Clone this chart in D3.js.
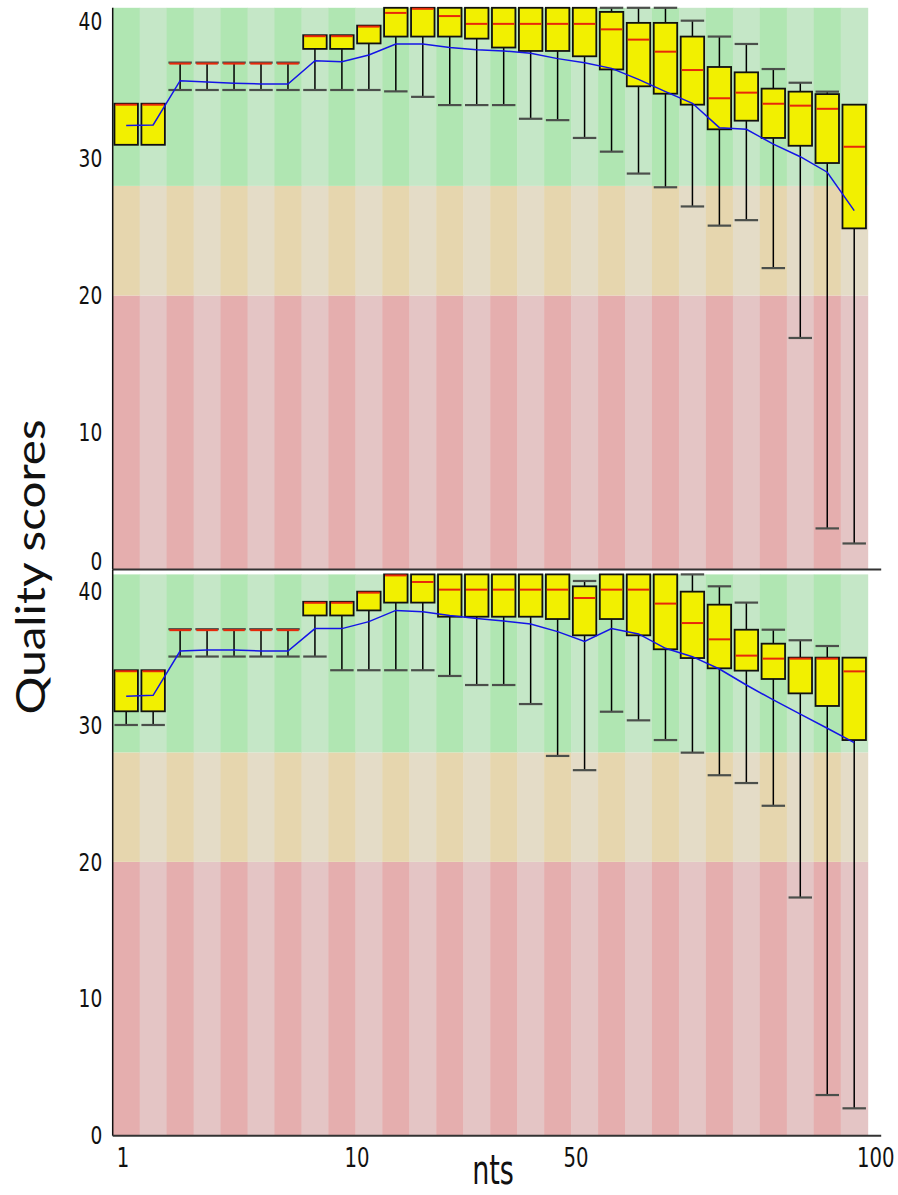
<!DOCTYPE html>
<html>
<head>
<meta charset="utf-8">
<script src="https://cdn.jsdelivr.net/npm/d3@7"></script>
<style>
  body { margin: 0; background: #fff; }
  svg { display: block; }
</style>
</head>
<body>
<div id="chart"></div>
<script>
// per-base quality, two reads stacked (28 position bins each)
const N_BINS = 28;
const Y_TICKS = [0, 10, 20, 30, 40];
const Y_MAX = 41;
const BAND_EDGES = [0, 20, 28, 41];           // red / orange / green
const X_TICK_LABELS = ["1", "10", "50", "100"];
const X_TICK_BINS = [0.38, 9.06, 17.18, 28.3]; // where the labels sit, in bin units

// top panel
const TOP_WLO  = [31, 31, 35, 35, 35, 35, 35, 35, 35, 35, 34.9, 34.5, 33.9, 33.9, 33.9, 32.9, 32.8, 31.5, 30.5, 28.9, 27.9, 26.5, 25.1, 25.5, 22.0, 16.9, 3.0, 1.9];
const TOP_Q1   = [31, 31, 37, 37, 37, 37, 37, 38, 38, 38.4, 38.9, 38.9, 38.9, 38.75, 38.1, 37.85, 37.85, 37.46, 36.5, 35.27, 34.73, 33.93, 32.13, 32.76, 31.5, 30.93, 29.67, 24.9];
const TOP_MED  = [34, 34, 37, 37, 37, 37, 37, 39, 39, 39.7, 40.7, 41, 40.47, 39.9, 39.9, 39.9, 39.9, 39.9, 39.5, 38.75, 37.87, 36.53, 34.47, 34.88, 34.07, 33.93, 33.7, 30.93];
const TOP_Q3   = [34, 34, 37, 37, 37, 37, 37, 39, 39, 39.7, 41, 41, 41, 41, 41, 41, 41, 41, 40.7, 39.9, 39.9, 38.9, 36.68, 36.29, 35.1, 34.88, 34.7, 33.93];
const TOP_WHI  = [34, 34, 37, 37, 37, 37, 37, 39, 39, 39.7, 41, 41, 41, 41, 41, 41, 41, 41, 41, 41, 41, 40.06, 38.9, 38.36, 36.53, 35.53, 34.88, 33.93];
const TOP_MEAN = [32.4, 32.45, 35.68, 35.58, 35.5, 35.44, 35.44, 37.14, 37.07, 37.55, 38.36, 38.36, 38.11, 37.94, 37.85, 37.68, 37.29, 36.99, 36.58, 35.78, 34.88, 34.03, 32.25, 32.13, 31.05, 30.13, 29.0, 26.2];

// bottom panel
const BOT_WLO  = [30, 30, 35, 35, 35, 35, 35, 35, 34, 34, 34, 34, 33.58, 32.92, 32.92, 31.53, 27.74, 26.7, 30.97, 30.34, 28.9, 27.98, 26.33, 25.76, 24.1, 17.4, 2.97, 2.0];
const BOT_Q1   = [31, 31, 37, 37, 37, 37, 37, 38, 38, 38.37, 38.94, 38.94, 37.91, 37.91, 37.91, 37.91, 37.74, 36.55, 37.74, 36.55, 35.53, 34.89, 34.14, 33.97, 33.36, 32.31, 31.39, 28.9];
const BOT_MED  = [34, 34, 37, 37, 37, 37, 37, 39, 39, 39.74, 41, 40.52, 39.96, 39.96, 39.96, 39.96, 39.96, 39.35, 39.96, 39.96, 38.94, 37.52, 36.33, 35.14, 34.92, 34.92, 34.92, 33.99];
const BOT_Q3   = [34, 34, 37, 37, 37, 37, 37, 39, 39, 39.74, 41, 41, 41, 41, 41, 41, 41, 40.13, 41, 41, 41, 39.74, 38.79, 36.96, 35.94, 34.92, 34.92, 34.92];
const BOT_WHI  = [34, 34, 37, 37, 37, 37, 37, 39, 39, 39.74, 41, 41, 41, 41, 41, 41, 41, 40.52, 41, 41, 41, 41, 40.13, 38.94, 36.96, 36.19, 35.77, 34.92];
const BOT_MEAN = [32.1, 32.17, 35.4, 35.48, 35.48, 35.4, 35.4, 37.04, 37.04, 37.55, 38.37, 38.28, 37.99, 37.77, 37.6, 37.38, 36.82, 36.11, 37.04, 36.65, 35.6, 34.99, 34.09, 32.92, 31.83, 30.8, 29.76, 28.71];

const BAND_COLORS = [["#e5aeae", "#e4c5c5"], ["#e6d6ae", "#e4dcc7"], ["#b0e6b2", "#c5e7c7"]];
const NARROW = "'DejaVu Sans Condensed', 'DejaVu Sans', sans-serif";
const SQUEEZE = 0.81;   // the reference glyphs are horizontally squashed

const W = 898, H = 1195;
const left = 112.7, right = 867.7;

const svg = d3.select("#chart").append("svg").attr("width", W).attr("height", H);

const x = d3.scaleBand().domain(d3.range(N_BINS)).range([left, right]);
const xBins = d3.scaleLinear().domain([0, N_BINS]).range([left, right]);
const pad = x.bandwidth() * 0.065;
const bw = x.bandwidth() - 2 * pad;
const cx = i => x(i) + x.bandwidth() / 2;

const panels = [
  { y: d3.scaleLinear().domain([0, Y_MAX]).range([569.5, 7.8]), axisTop: 7.8,
    wlo: TOP_WLO, q1: TOP_Q1, med: TOP_MED, q3: TOP_Q3, whi: TOP_WHI, mean: TOP_MEAN },
  { y: d3.scaleLinear().domain([0, Y_MAX]).range([1135.7, 574.4]), axisTop: 569.5,
    wlo: BOT_WLO, q1: BOT_Q1, med: BOT_MED, q3: BOT_Q3, whi: BOT_WHI, mean: BOT_MEAN }
];

panels.forEach((p, pi) => {
  const y = p.y;
  const g = svg.append("g");

  // striped quality bands
  const bands = [];
  for (let b = 0; b < BAND_EDGES.length - 1; b++)
    for (let i = 0; i < N_BINS; i++) bands.push({ b, i });
  g.selectAll("rect.bg").data(bands).enter().append("rect")
    .attr("x", d => x(d.i)).attr("width", x.bandwidth() + 0.5)
    .attr("y", d => y(BAND_EDGES[d.b + 1]))
    .attr("height", d => y(BAND_EDGES[d.b]) - y(BAND_EDGES[d.b + 1]))
    .attr("fill", d => BAND_COLORS[d.b][d.i % 2]);

  const idx = d3.range(N_BINS);

  // whiskers
  g.selectAll("line.wl").data(idx).enter().append("line")
    .attr("x1", cx).attr("x2", cx)
    .attr("y1", i => y(p.wlo[i])).attr("y2", i => y(p.q1[i]))
    .attr("stroke", "#000").attr("stroke-width", 1.5);
  g.selectAll("line.wh").data(idx).enter().append("line")
    .attr("x1", cx).attr("x2", cx)
    .attr("y1", i => y(p.q3[i])).attr("y2", i => y(p.whi[i]))
    .attr("stroke", "#000").attr("stroke-width", 1.5);

  // caps (only where the whisker leaves the box)
  const caps = [];
  idx.forEach(i => {
    if (p.wlo[i] < p.q1[i]) caps.push({ i, v: p.wlo[i] });
    if (p.whi[i] > p.q3[i] || p.q1[i] === p.q3[i]) caps.push({ i, v: p.whi[i] });
  });
  g.selectAll("line.cap").data(caps).enter().append("line")
    .attr("x1", d => x(d.i) + pad).attr("x2", d => x(d.i) + pad + bw)
    .attr("y1", d => y(d.v)).attr("y2", d => y(d.v))
    .attr("stroke", "#4b4f4b").attr("stroke-width", 2.2);

  // boxes
  g.selectAll("rect.box").data(idx.filter(i => p.q3[i] > p.q1[i])).enter().append("rect")
    .attr("x", i => x(i) + pad).attr("width", bw)
    .attr("y", i => y(p.q3[i])).attr("height", i => y(p.q1[i]) - y(p.q3[i]))
    .attr("fill", "#f2f000").attr("stroke", "#111").attr("stroke-width", 1.8);

  // medians
  g.selectAll("line.med").data(idx).enter().append("line")
    .attr("x1", i => x(i) + pad + 1).attr("x2", i => x(i) + pad + bw - 1)
    .attr("y1", i => y(p.med[i]) + 1).attr("y2", i => y(p.med[i]) + 1)
    .attr("stroke", "#e8280a").attr("stroke-width", 2);

  // mean line
  g.append("path").datum(idx)
    .attr("fill", "none").attr("stroke", "#1414e6").attr("stroke-width", 1.5)
    .attr("d", d3.line().x(cx).y(i => y(p.mean[i])));

  // y axis
  const ax = g.append("g").attr("transform", `translate(${left},0)`)
    .call(d3.axisLeft(y).tickValues(Y_TICKS).tickSize(0).tickPadding(10));
  ax.select(".domain").remove();
  ax.selectAll("text")
    .attr("x", -10.5 / SQUEEZE).attr("transform", `scale(${SQUEEZE},1)`)
    .style("font-family", NARROW).style("font-size", "25.5px").attr("fill", "#111");
  if (pi === 0) ax.selectAll(".tick").filter(d => d === 0).select("text").attr("y", -8);
  if (pi === 1) ax.selectAll(".tick").filter(d => d === 40).select("text").attr("y", 3);
  g.append("line").attr("x1", left).attr("x2", left)
    .attr("y1", p.axisTop).attr("y2", y(0))
    .attr("stroke", "#111").attr("stroke-width", 1.5);

  // baseline
  g.append("line").attr("x1", left).attr("x2", right + 13.5)
    .attr("y1", y(0)).attr("y2", y(0))
    .attr("stroke", "#333").attr("stroke-width", 2);
});

// x tick labels
svg.selectAll("text.xt").data(X_TICK_LABELS).enter().append("text")
  .attr("transform", (d, i) => `translate(${xBins(X_TICK_BINS[i])},1167) scale(${SQUEEZE},1)`)
  .attr("text-anchor", "middle")
  .style("font-family", NARROW).style("font-size", "27px").attr("fill", "#111")
  .text(d => d);

svg.append("text").attr("transform", "translate(493,1184) scale(0.75,1)")
  .attr("text-anchor", "middle")
  .style("font-family", NARROW).style("font-size", "40px").attr("fill", "#111")
  .text("nts");

const yl = svg.append("text").attr("transform", "translate(45,567) rotate(-90) scale(1,0.85)")
  .attr("text-anchor", "middle")
  .style("font-family", "Lato, 'Open Sans', sans-serif").style("font-size", "40px").attr("fill", "#111")
  .text("Quality scores");
const len = yl.node().getComputedTextLength();
yl.style("font-size", (40 * 295 / len).toFixed(1) + "px");
</script>
</body>
</html>
